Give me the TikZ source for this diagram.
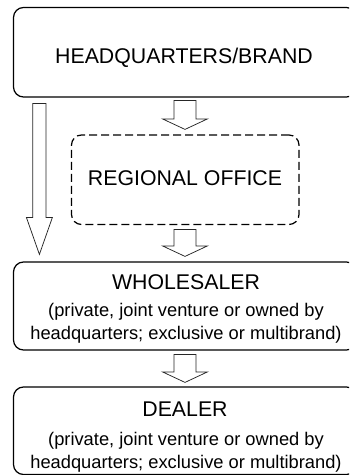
\documentclass[tikz,border=0pt]{standalone}
\usepackage{fontspec}
\setmainfont{Liberation Sans}
\usetikzlibrary{calc}
\newcommand\blkarrow[5]{%
  \draw[arrowline] let \p1=#1, \p2=#2 in
    ($(\x1,\y1)+(-#3,0)$) -- ($(\x1,\y1)+(#3,0)$) -- ($(\x1,\y2)+(#3,#5)$) --
    ($(\x1,\y2)+(#4,#5)$) -- (\x1,\y2) -- ($(\x1,\y2)+(-#4,#5)$) --
    ($(\x1,\y2)+(-#3,#5)$) -- cycle;}
\begin{document}
\begin{tikzpicture}[x=1pt,y=1pt,
  box/.style={draw=black, line width=1.2pt, rounded corners=10pt, rectangle, inner sep=0pt},
  dashbox/.style={box, dash pattern=on 8pt off 4pt},
  arrowline/.style={draw=black!85, line width=0.75pt, fill=white, line join=miter},
  big/.style={anchor=base, inner sep=0pt, text=black, font=\fontsize{21.3pt}{25pt}\selectfont},
  small/.style={anchor=base, inner sep=0pt, text=black, font=\fontsize{18.3pt}{22pt}\selectfont}]
\useasboundingbox (0,0) rectangle (349,475);
\clip (0,0) rectangle (349,475);
\node[box, minimum width=343pt, minimum height=89.5pt] (hq) at (185,422.75) {};
\node[dashbox, minimum width=227.5pt, minimum height=89.5pt] (ro) at (185.25,295.25) {};
\node[box, minimum width=343pt, minimum height=88pt] (ws) at (185,169) {};
\node[box, minimum width=343pt, minimum height=87.5pt] (dl) at (185,44.25) {};
\node[big] (hqt) at (184,411) {HEADQUARTERS/BRAND};
\node[big] (rot) at (185,289) {REGIONAL OFFICE};
\node[big] (wst) at (186,185) {WHOLESALER};
\node[small] (ws1) at (186,158.3) {(private, joint venture or owned by};
\node[small] (ws2) at (186,135) {headquarters; exclusive or multibrand)};
\node[big] (dlt) at (185,58.3) {DEALER};
\node[small] (dl1) at (186,30) {(private, joint venture or owned by};
\node[small] (dl2) at (186,6.7) {headquarters; exclusive or multibrand)};
\blkarrow{($(hq.south)+(0,-3)$)}{($(ro.north)+(0,5)$)}{11pt}{22.5pt}{10.5pt}
\blkarrow{($(ro.south)+(-0.25,-4.5)$)}{($(ws.north)+(0,5)$)}{11pt}{22.5pt}{10.5pt}
\blkarrow{($(ws.south)+(0,-4)$)}{($(dl.north)+(0,4)$)}{11pt}{22.5pt}{10.5pt}
\blkarrow{($(hq.south west)+(26.5,-6)$)}{($(ws.north west)+(26.5,7)$)}{6.7pt}{13pt}{37pt}
\end{tikzpicture}
\end{document}
